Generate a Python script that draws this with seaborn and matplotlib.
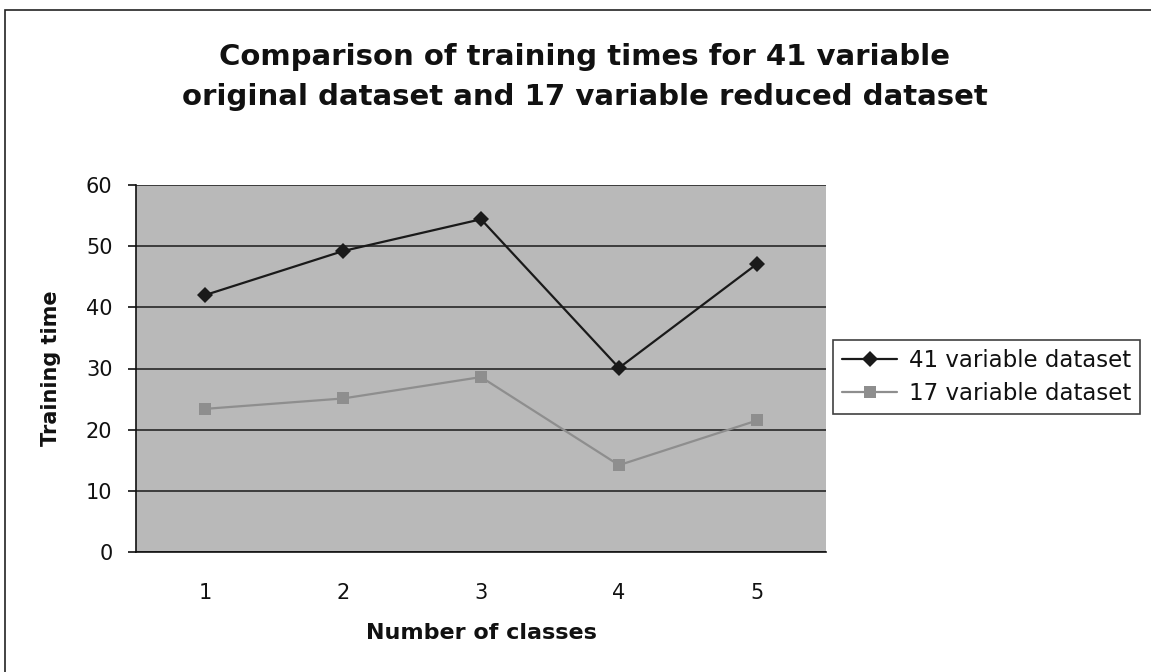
import matplotlib
matplotlib.use("Agg")
import matplotlib.pyplot as plt
import seaborn as sns
import pandas as pd
from matplotlib.patches import Rectangle

classes = [1, 2, 3, 4, 5]
times_41 = [42.0, 49.2, 54.4, 30.1, 47.1]
times_17 = [23.4, 25.1, 28.6, 14.2, 21.5]
series_names = ["41 variable dataset", "17 variable dataset"]
title = "Comparison of training times for 41 variable\noriginal dataset and 17 variable reduced dataset"

df = pd.DataFrame({
    "classes": classes * 2,
    "time": times_41 + times_17,
    "series": [series_names[0]] * 5 + [series_names[1]] * 5,
})

sns.set_style("white")
plt.rcParams["font.family"] = ["DejaVu Sans"]
plt.rcParams["text.color"] = "#111111"
plt.rcParams["axes.labelcolor"] = "#111111"
plt.rcParams["xtick.labelcolor"] = "#111111"
plt.rcParams["ytick.labelcolor"] = "#111111"

fig = plt.figure(figsize=(11.51, 6.72), dpi=100)
ax = fig.add_axes([136 / 1151, 1 - 552 / 672, (826 - 136) / 1151, (552 - 185) / 672])
ax.set_facecolor("#b9b9b9")

sns.lineplot(data=df, x="classes", y="time", hue="series", style="series",
             palette=["#1a1a1a", "#8e8e8e"], markers=["D", "s"], dashes=False,
             markersize=8, linewidth=1.6, markeredgewidth=0, ax=ax)

ax.set_xlim(0.5, 5.5)
ax.set_ylim(0, 60)
ax.set_yticks(range(0, 61, 10))
ax.set_xticks(classes)
ax.set_xticks([1.5, 2.5, 3.5, 4.5], minor=True)
ax.yaxis.grid(True, color="#1a1a1a", linewidth=1.1)
ax.xaxis.grid(False)
ax.set_axisbelow(True)
for s in ["top", "right"]:
    ax.spines[s].set_visible(False)
for s in ["left", "bottom"]:
    ax.spines[s].set_color("#111111")
    ax.spines[s].set_linewidth(1.2)
ax.tick_params(axis="x", which="major", length=0, labelsize=15, pad=22)
ax.tick_params(axis="x", which="minor", direction="out", length=6, width=1.2, color="#111111")
ax.tick_params(axis="y", direction="out", length=6, width=1.2, color="#111111",
               labelsize=15, left=True, pad=11)

ax.set_xlabel("Number of classes", fontsize=16, fontweight="bold", labelpad=15)
ax.set_ylabel("Training time", fontsize=15, fontweight="bold", labelpad=18)

fig.text(0.508, 0.885, title, ha="center", va="center", fontsize=21,
         fontweight="bold", linespacing=1.55)

leg = ax.legend(loc="center left", bbox_to_anchor=(833 / 1151, 1 - 377 / 672),
                bbox_transform=fig.transFigure, frameon=True, fancybox=False,
                fontsize=16.5, handlelength=2.4, borderpad=0.4, labelspacing=0.45,
                handletextpad=0.5, borderaxespad=0)
leg.get_frame().set_edgecolor("#111111")
leg.get_frame().set_linewidth(1.2)
leg.get_frame().set_facecolor("white")

fig.patches.append(Rectangle((5 / 1151, -0.02), 1.05, 1 - 10 / 672 + 0.02,
                             transform=fig.transFigure, fill=False,
                             edgecolor="#222222", linewidth=1.2))

fig.savefig("out.png", dpi=100, facecolor="white")
